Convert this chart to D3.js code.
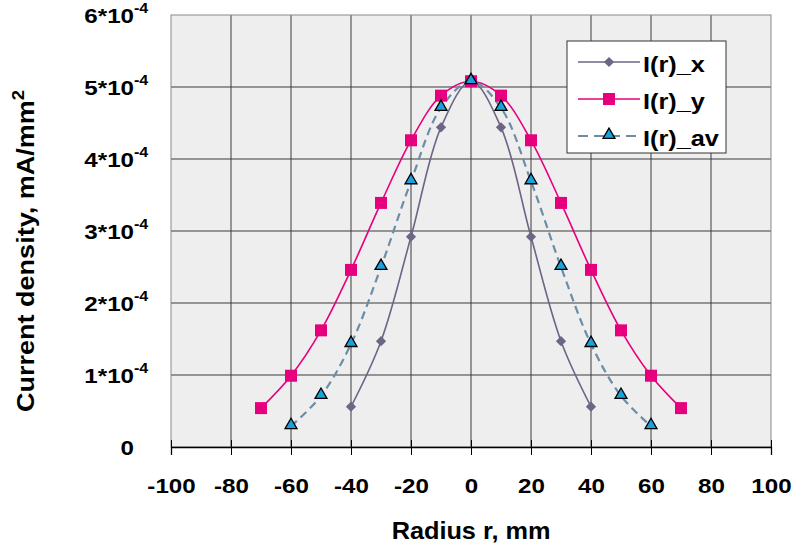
<!DOCTYPE html>
<html>
<head>
<meta charset="utf-8">
<script src="https://cdn.jsdelivr.net/npm/d3@7"></script>
<style>
  body { margin: 0; background: #fff; }
  text { font-family: 'Liberation Sans', Arial, sans-serif; font-weight: bold; fill: #000; }
</style>
</head>
<body>
<svg id="chart" width="796" height="546"></svg>
<script>
const radiusX = [-40, -30, -20, -10, 0, 10, 20, 30, 40]
const densityX = [0.56, 1.47, 2.92, 4.44, 5.08, 4.44, 2.92, 1.47, 0.56]

const radiusY = [-70, -60, -50, -40, -30, -20, -10, 0, 10, 20, 30, 40, 50, 60, 70]
const densityY = [0.54, 0.99, 1.62, 2.46, 3.39, 4.26, 4.88, 5.08, 4.88, 4.26, 3.39, 2.46, 1.62, 0.99, 0.54]

const radiusAv = [-60, -50, -40, -30, -20, -10, 0, 10, 20, 30, 40, 50, 60]
const densityAv = [0.29, 0.71, 1.43, 2.5, 3.69, 4.71, 5.08, 4.71, 3.69, 2.5, 1.43, 0.71, 0.29]

const xTicks = [-100, -80, -60, -40, -20, 0, 20, 40, 60, 80, 100]
const yTicks = [0, 1, 2, 3, 4, 5, 6]

const series = [
  { name: 'I(r)_x', xs: radiusX, ys: densityX, color: '#6e6486', marker: 'diamond', dash: null },
  { name: 'I(r)_y', xs: radiusY, ys: densityY, color: '#e6007e', marker: 'square', dash: null },
  { name: 'I(r)_av', xs: radiusAv, ys: densityAv, color: '#6b8ea6', marker: 'triangle', dash: '8,5' },
]

// text in the original is drawn a bit wider than Arial
const WIDE = 1.15

const svg = d3.select('#chart')
const plotL = 171, plotR = 771, plotT = 15, plotB = 447

const x = d3.scaleLinear().domain([-100, 100]).range([plotL, plotR])
const y = d3.scaleLinear().domain([0, 6]).range([plotB, plotT])

svg.append('rect')
  .attr('x', plotL).attr('y', plotT)
  .attr('width', plotR - plotL).attr('height', plotB - plotT)
  .attr('fill', '#eeeeee')

// grid
svg.append('g')
  .selectAll('line')
  .data(xTicks.slice(1, -1))
  .join('line')
  .attr('x1', (d) => x(d)).attr('x2', (d) => x(d))
  .attr('y1', plotT).attr('y2', plotB)
  .attr('stroke', '#3a3a3a').attr('stroke-width', 1)

svg.append('g')
  .selectAll('line')
  .data(yTicks.slice(1, -1))
  .join('line')
  .attr('x1', plotL).attr('x2', plotR)
  .attr('y1', (d) => y(d)).attr('y2', (d) => y(d))
  .attr('stroke', '#3a3a3a').attr('stroke-width', 1)

svg.append('rect')
  .attr('x', plotL).attr('y', plotT)
  .attr('width', plotR - plotL).attr('height', plotB - plotT)
  .attr('fill', 'none').attr('stroke', '#8a8a8a').attr('stroke-width', 1)

// x axis
const xAxis = svg.append('g')
  .attr('transform', `translate(0,${plotB})`)
  .call(d3.axisBottom(x).tickValues(xTicks).tickFormat((d) => String(d)).tickSize(8).tickPadding(23))
xAxis.select('.domain').attr('stroke', '#000').attr('stroke-width', 1.3)
xAxis.selectAll('.tick line').attr('y1', -7).attr('stroke', '#000')
xAxis.selectAll('.tick text')
  .attr('font-size', 21)
  .attr('font-family', "'Liberation Sans', Arial, sans-serif")
  .attr('font-weight', 'bold')
  .attr('fill', '#000')
  .attr('transform', `scale(${WIDE},1)`)

// y axis labels
const yl = svg.append('g')
yTicks.forEach((t) => {
  const g = yl.append('g').attr('transform', `translate(134,${y(t) + 8}) scale(${WIDE},1)`)
  if (t === 0) {
    g.append('text').attr('text-anchor', 'end').attr('font-size', 21).text('0')
  } else {
    g.append('text').attr('text-anchor', 'end').attr('font-size', 21).text(`${t}*10`)
    g.append('text').attr('x', 0).attr('y', -10).attr('font-size', 14).text('-4')
  }
})

// titles
svg.append('text')
  .attr('transform', `translate(${(plotL + plotR) / 2},539) scale(${WIDE - 0.05},1)`)
  .attr('text-anchor', 'middle').attr('font-size', 23)
  .text('Radius r, mm')

const yt = svg.append('text')
  .attr('transform', `translate(34,251) rotate(-90) scale(${WIDE},1)`)
  .attr('text-anchor', 'middle').attr('font-size', 23.5)
yt.append('tspan').text('Current density, mA/mm')
yt.append('tspan').attr('font-size', 16).attr('dy', -10).text('2')

// series
const line = d3.line()
  .x((d) => x(d[0])).y((d) => y(d[1]))
  .curve(d3.curveCatmullRom.alpha(0.5))

function drawMarker(g, s) {
  if (s.marker === 'diamond') {
    g.append('path').attr('d', d3.symbol().type(d3.symbolSquare).size(52)())
      .attr('transform', 'rotate(45)')
      .attr('fill', s.color)
  } else if (s.marker === 'square') {
    g.append('path').attr('d', d3.symbol().type(d3.symbolSquare).size(144)())
      .attr('fill', s.color)
  } else {
    g.append('path').attr('d', d3.symbol().type(d3.symbolTriangle).size(62)())
      .attr('transform', 'translate(0,-1)')
      .attr('fill', '#1ba1dd').attr('stroke', '#000').attr('stroke-width', 1.3)
  }
}

series.forEach((s) => {
  const pts = s.xs.map((v, i) => [v, s.ys[i]])
  svg.append('path')
    .datum(pts)
    .attr('d', line)
    .attr('fill', 'none')
    .attr('stroke', s.color)
    .attr('stroke-width', s.dash ? 2.2 : 1.6)
    .attr('stroke-dasharray', s.dash)
})

series.forEach((s) => {
  const pts = s.xs.map((v, i) => [v, s.ys[i]])
  pts.forEach((p) => {
    const g = svg.append('g').attr('transform', `translate(${x(p[0])},${y(p[1])})`)
    drawMarker(g, s)
  })
})

// legend
const lg = svg.append('g').attr('transform', 'translate(567,41)')
lg.append('rect').attr('width', 159).attr('height', 112)
  .attr('fill', '#fff').attr('stroke', '#333').attr('stroke-width', 1)
series.forEach((s, i) => {
  const cy = 21 + i * 37
  lg.append('line').attr('x1', 11).attr('x2', 73).attr('y1', cy).attr('y2', cy)
    .attr('stroke', s.color).attr('stroke-width', s.dash ? 2 : 1.6)
    .attr('stroke-dasharray', s.dash ? '10,6' : null)
  const g = lg.append('g').attr('transform', `translate(42,${cy})`)
  drawMarker(g, s)
  lg.append('text')
    .attr('transform', `translate(76,${cy + 10}) scale(${WIDE},1)`)
    .attr('font-size', 22).text(s.name)
})
</script>
</body>
</html>
